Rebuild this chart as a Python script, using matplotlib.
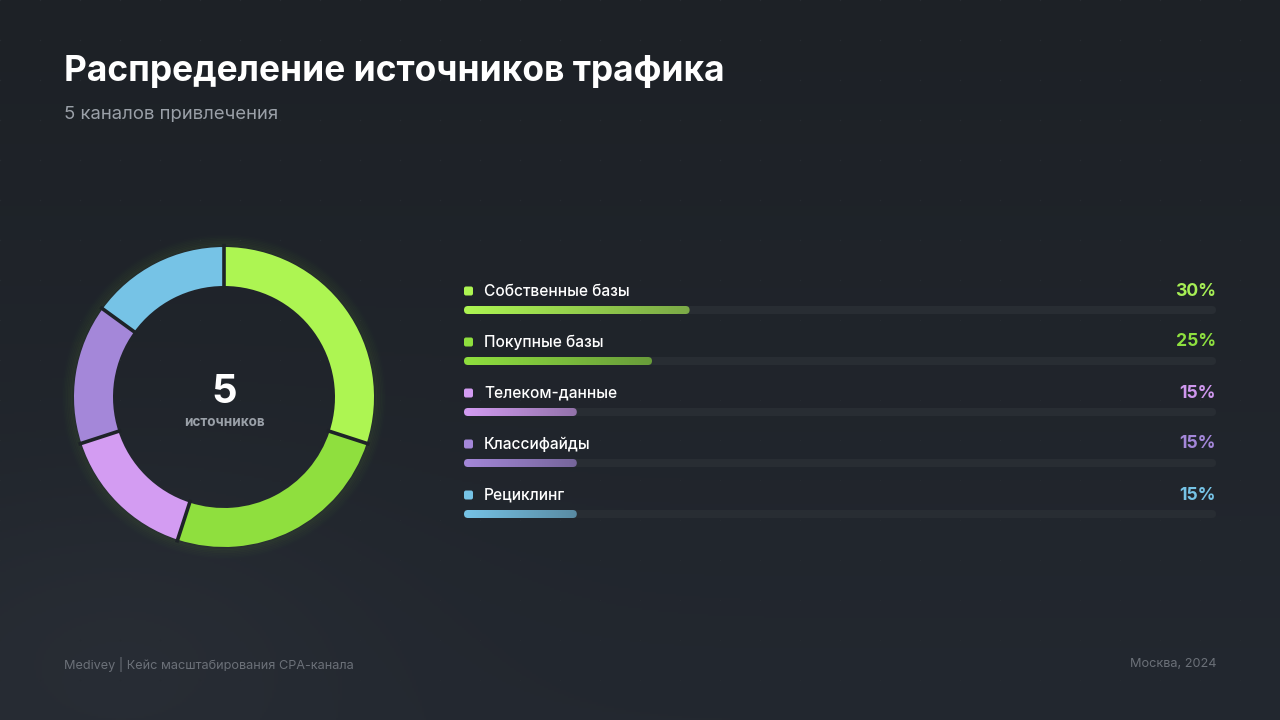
import numpy as np
import matplotlib.pyplot as plt
from matplotlib.patches import FancyBboxPatch, Circle
from matplotlib.colors import to_rgb

plt.rcParams['font.family'] = ['Inter', 'DejaVu Sans']

# data
sources = ['Собственные базы', 'Покупные базы', 'Телеком-данные', 'Классифайды', 'Рециклинг']
shares = [30, 25, 15, 15, 15]
colors = ['#adf552', '#8fdf3e', '#d39cf2', '#a487d9', '#76c3e6']
pct_colors = ['#a6ee55', '#8ee03f', '#cf97ee', '#a487d9', '#76c3e6']

title = 'Распределение источников трафика'
subtitle = '5 каналов привлечения'
center_value = '5'
center_label = 'источников'
footer_left = 'Medivey | Кейс масштабирования CPA-канала'
footer_right = 'Москва, 2024'

W, H = 1280, 720
BG = '#1e2328'


def px(s):
    # pixel size -> points at dpi 100
    return s * 72 / 100


fig = plt.figure(figsize=(W / 100, H / 100), dpi=100)
ax = fig.add_axes([0, 0, 1, 1])
ax.set_xlim(0, W)
ax.set_ylim(H, 0)
ax.axis('off')

# background: vertical gradient + soft glow bottom-left
yy, xx = np.mgrid[0:H:2, 0:W:2]
top = np.array(to_rgb('#1d2126'))
bot = np.array(to_rgb('#232830'))
t = (yy / H)[..., None]
img = top * (1 - t) + bot * t
glow = np.exp(-(((xx - 120) / 260) ** 2 + ((yy - 640) / 160) ** 2))[..., None]
img = img + glow * 0.02
ax.imshow(np.clip(img, 0, 1), extent=[0, W, H, 0], zorder=0, aspect='auto')

# faint dot grid
gx, gy = np.meshgrid(np.arange(0, W, 40), np.arange(0, H, 40))
ax.scatter(gx.ravel(), gy.ravel(), s=1.0, color='#262b31', zorder=1, linewidths=0)

# titles
ax.text(64, 72, title, fontsize=px(35.3), fontweight='bold', color='white',
        va='center', ha='left', zorder=5)
ax.text(64, 114, subtitle, fontsize=px(18.5), color='#9aa0a8',
        va='center', ha='left', zorder=5)

# footer
ax.text(64, 664, footer_left, fontsize=px(12.7), color='#6b7078', va='center', ha='left', zorder=5)
ax.text(1216, 664, footer_right, fontsize=px(12.7), color='#6b7078', va='center', ha='right', zorder=5)

# donut
cx, cy, R = 224, 397, 150
ring = 39
for k in range(8):
    ax.add_patch(Circle((cx, cy), R + 1 + k * 1.6, fill=False, lw=3,
                        ec='#9ee84a', alpha=0.03 * (8 - k) / 8, zorder=2))
box = 170
dax = fig.add_axes([(cx - box) / W, (H - cy - box) / H, 2 * box / W, 2 * box / H])
wedges, _ = dax.pie(shares, colors=colors, startangle=90, counterclock=False, radius=1,
                    wedgeprops=dict(width=ring / R, edgecolor='none', linewidth=0))
# separators between slices
for w in wedges:
    a = np.deg2rad(w.theta2)
    dax.plot([np.cos(a) * (1 - ring / R - 0.02), np.cos(a) * 1.02],
             [np.sin(a) * (1 - ring / R - 0.02), np.sin(a) * 1.02],
             color=BG, lw=2.6, solid_capstyle='butt', zorder=5)
dax.set_xlim(-box / R, box / R)
dax.set_ylim(-box / R, box / R)
dax.set_aspect('equal')
dax.axis('off')
dax.patch.set_alpha(0)

dax.text(0, 0.03, center_value, fontsize=px(40), fontweight='bold', color='white',
         ha='center', va='center')
dax.text(0, -0.17, center_label, fontsize=px(13.5), fontweight='bold', color='#9aa0a8',
         ha='center', va='center')

# legend bars
x0, x1 = 464, 1216
track_w = x1 - x0
bar_h = 8
row0, step = 291, 51
for i, (name, v) in enumerate(zip(sources, shares)):
    ty = row0 + i * step
    by = ty + 19
    # marker
    ax.add_patch(FancyBboxPatch((464, ty - 4.5), 9, 9, boxstyle='round,pad=0,rounding_size=2',
                                fc=colors[i], ec='none', zorder=5))
    ax.text(484, ty, name, fontsize=px(15.5), fontweight='medium', color='white',
            va='center', ha='left', zorder=5)
    ax.text(x1, ty, f'{v}%', fontsize=px(17.6), fontweight='bold', color=pct_colors[i],
            va='center', ha='right', zorder=5)
    # track
    ax.add_patch(FancyBboxPatch((x0, by - bar_h / 2), track_w, bar_h,
                                boxstyle=f'round,pad=0,rounding_size={bar_h / 2}',
                                fc='#282d33', ec='none', zorder=3))
    # filled part with gradient
    fw = track_w * v / 100
    clip = FancyBboxPatch((x0, by - bar_h / 2), fw, bar_h,
                          boxstyle=f'round,pad=0,rounding_size={bar_h / 2}',
                          fc='none', ec='none', transform=ax.transData)
    ax.add_patch(clip)
    c0 = np.array(to_rgb(colors[i]))
    c1 = c0 * 0.62 + np.array(to_rgb('#2a2f35')) * 0.38
    g = np.linspace(0, 1, 200)[None, :, None]
    grad = c0 * (1 - g) + c1 * g
    im = ax.imshow(grad, extent=[x0, x0 + fw, by + bar_h / 2, by - bar_h / 2],
                   aspect='auto', zorder=4)
    im.set_clip_path(clip)

ax.set_xlim(0, W)
ax.set_ylim(H, 0)
fig.savefig('out.png', dpi=100, facecolor=BG)
